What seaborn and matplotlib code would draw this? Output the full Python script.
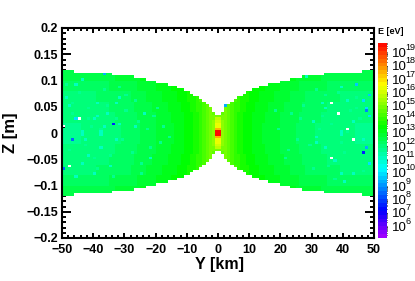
import colorsys
import numpy as np
import pandas as pd
import seaborn as sns
import matplotlib
import matplotlib.pyplot as plt
from matplotlib.colors import ListedColormap, LogNorm
from matplotlib.ticker import LogLocator, MultipleLocator, NullFormatter

matplotlib.use('Agg')

# half height of the filled region [m] for |Y| bins 0-1, 1-2, ... 49-50 km
half_height = [0.035, 0.04, 0.05, 0.055, 0.06, 0.065, 0.07, 0.07, 0.075, 0.08,
               0.08, 0.085, 0.085, 0.09, 0.09, 0.09, 0.095, 0.095, 0.095, 0.095,
               0.10, 0.10, 0.10, 0.105, 0.105, 0.105, 0.105, 0.11, 0.11, 0.11,
               0.11, 0.11, 0.11, 0.11, 0.115, 0.115, 0.115, 0.115, 0.115, 0.115,
               0.115, 0.115, 0.115, 0.115, 0.115, 0.115, 0.12, 0.12, 0.12, 0.12]

# log10(E) near Z = 0 for the same |Y| bins
y_profile = [19.6, 15.1, 14.8, 14.5, 14.2, 14.0, 13.8, 13.6, 13.5, 13.4,
             13.3, 13.2, 13.1, 13.0, 12.95, 12.9, 12.85, 12.8, 12.75, 12.7,
             12.6, 12.55, 12.5, 12.45, 12.4, 12.35, 12.3, 12.25, 12.2, 12.2,
             12.15, 12.1, 12.1, 12.05, 12.05, 12.0, 12.0, 11.95, 11.95, 11.9,
             11.9, 11.85, 11.85, 11.85, 11.8, 11.8, 11.8, 11.8, 11.8, 11.8]
# how much greener it gets towards the edge, |Z| bands of 0.02 m
z_offset = [0.0, 0.05, 0.1, 0.2, 0.35, 0.6]

# the hot core: |Y| < 1 km, per 0.005 m bin of |Z|
core_log_e = [19.6, 17.4, 16.3, 16.2, 16.0, 15.8, 15.0]
# the bins next to it: 1 < |Y| < 2 km
shoulder_log_e = [15.1, 15.1, 15.1, 15.1, 15.1, 15.0, 14.9, 14.7]

# single odd cells
odd_y = [-44.4, -45.5, -33.5, -36.5, -49.3, -46.6, -47.6, -49.3, 2.2,
         36.3, 38.4, 41.3, 44.2, 47.2, 48.2, 46.6, 48.4, 47.1,
         43.4, 36.3, 46.3, 47.2, 48.2]
odd_z = [0.029, 0.028, 0.0165, 0.113, 0.013, -0.0114, -0.0629, -0.0673, 0.053,
         0.0571, 0.0368, 0.0095, 0.0933, 0.0407, 0.0724, 0.0609, 0.0329, 0.05,
         -0.0146, -0.047, -0.0356, -0.026, -0.059]
odd_log_e = [np.nan, 9.8, 7.6, 9.2, np.nan, 8.6, np.nan, 8.6, 9.4,
             np.nan, np.nan, np.nan, 9.6, 8.8, 9.6, 9.8, 9.8, 10.0,
             np.nan, np.nan, 7.6, 9.2, 9.8]

# paler cyan-green cells
pale_y = [-43.4, -45.5, -48.5, -31.6, -33.0, -38.4, -39.6, -35.1, -36.2, -31.9,
          -37.6, -43.4, -38.9, -47.6, -42.6, -43.4, -37.6, -43.4, -39.4, -45.3,
          -33.0, -38.0, -41.6, -34.6, 41.2, 43.4, 39.3, 30.8, 33.2, 28.2, 39.1,
          34.8, 39.3, 31.4, 43.4, 40.2, 39.1, 46.0, 34.3, 37.5, 31.1,
          -23.4, -26.6, -21.6]
pale_z = [0.1016, 0.0902, 0.066, 0.068, 0.0597, 0.0323, 0.0298, 0.0356, 0.0122, 0.0165,
          0.0013, 0.0013, 0.0565, 0.0533, -0.0146, -0.002, -0.002, -0.056, -0.075, -0.082,
          -0.0133, -0.029, -0.044, -0.061, 0.0609, 0.0216, 0.0013, 0.0216, 0.0584, 0.1054, 0.0851,
          0.0471, -0.002, -0.0197, -0.0756, -0.091, -0.0756, -0.0102, -0.029, -0.0514, -0.007,
          0.0375, 0.012, -0.045]
pale_log_e = 11.2

# fainter mottling, picked by eye
mottle_y = [-48.3, -46.2, -44.7, -42.2, -41.3, -40.4, -38.2, -36.7, -35.6, -34.2, -32.4, -30.5,
            -29.3, -27.6, -25.4, -24.2, -22.7, -20.3, -18.6, -47.3, -44.2, -41.2, -37.3, -33.7,
            -29.6, -26.2, -21.4, -17.7, -15.4, -46.6, -39.7, -31.2, -24.6, -19.2,
            48.6, 46.3, 44.7, 42.4, 40.6, 38.3, 36.4, 35.2, 33.6, 31.7, 29.4, 27.2, 25.6, 23.3,
            21.6, 19.4, 47.4, 44.3, 41.4, 37.7, 34.6, 30.3, 26.6, 22.4, 18.3, 45.2, 39.6, 32.3]
mottle_z = [0.092, 0.038, 0.078, -0.022, 0.047, 0.014, -0.066, 0.084, 0.052, -0.041, 0.027, -0.012,
            0.072, -0.036, 0.021, -0.058, 0.007, 0.033, -0.017, -0.034, 0.006, 0.028, 0.009, -0.082,
            0.043, 0.061, -0.029, 0.012, -0.006, 0.056, -0.048, 0.086, -0.077, 0.048,
            0.018, -0.072, 0.068, 0.042, -0.038, 0.077, 0.018, -0.063, 0.031, 0.082, -0.024, 0.052, -0.012, 0.036,
            -0.049, 0.008, -0.014, 0.048, 0.002, -0.088, 0.071, -0.068, 0.028, -0.033, 0.041, 0.027, -0.018, 0.006]
mottle_log_e = 11.7

y_ticks = [-50, -40, -30, -20, -10, 0, 10, 20, 30, 40, 50]
z_ticks = [-0.2, -0.15, -0.1, -0.05, 0, 0.05, 0.1, 0.15, 0.2]
z_labels = ['\u22120.2', '\u22120.15', '\u22120.1', '\u22120.05', '0', '0.05', '0.1', '0.15', '0.2']
e_exponents = [6, 7, 8, 9, 10, 11, 12, 13, 14, 15, 16, 17, 18, 19]
e_min, e_max = 10 ** 5.1, 10 ** 19.7

n_y, n_z = 100, 80
dz = 0.005

# build the 2D histogram, row 0 at the top
grid = np.full((n_z, n_y), np.nan)
for col in range(n_y):
    abs_bin = col - 50 if col >= 50 else 49 - col
    for row in range(n_z):
        j = row - 40 if row >= 40 else 39 - row
        if (j + 1) * dz > half_height[abs_bin] + 1e-9:
            continue
        if abs_bin == 0:
            grid[row, col] = core_log_e[j]
        elif abs_bin == 1:
            grid[row, col] = shoulder_log_e[j]
        else:
            grid[row, col] = y_profile[abs_bin] + z_offset[min(j // 4, 5)]


def cell(y, z):
    return int((0.2 - z) / dz), int(y + 50)


for y, z in zip(mottle_y, mottle_z):
    grid[cell(y, z)] = mottle_log_e
for y, z in zip(pale_y, pale_z):
    grid[cell(y, z)] = pale_log_e
for y, z, v in zip(odd_y, odd_z, odd_log_e):
    grid[cell(y, z)] = v

table = pd.DataFrame(10 ** grid)

# ROOT style rainbow, 50 steps
hues = [280 * (1 - (i + 0.5) / 50) / 360 for i in range(50)]
rainbow = ListedColormap([colorsys.hsv_to_rgb(h, 1, 1) for h in hues])

sns.set_theme(style='ticks')
plt.rcParams['font.family'] = ['Liberation Sans', 'DejaVu Sans']

W, H = 415, 281
fig = plt.figure(figsize=(W / 100, H / 100), dpi=100)
ax = fig.add_axes([62 / W, 1 - 238 / H, 312 / W, 210 / H])
cax = fig.add_axes([378 / W, 1 - 238 / H, 8.5 / W, 195 / H])

sns.heatmap(table, ax=ax, cbar_ax=cax, cmap=rainbow, norm=LogNorm(e_min, e_max),
            xticklabels=False, yticklabels=False, linewidths=0)

# axes in bin units
ax.set_xticks([v + 50 for v in y_ticks])
ax.set_xticklabels(['\u2212' + str(-v) if v < 0 else str(v) for v in y_ticks],
                   fontsize=9, fontweight='bold', color='black')
ax.xaxis.set_minor_locator(MultipleLocator(2))
ax.set_yticks([(0.2 - v) / dz for v in z_ticks])
ax.set_yticklabels(z_labels, fontsize=9, fontweight='bold', color='black')
ax.yaxis.set_minor_locator(MultipleLocator(2))
ax.tick_params(axis='x', which='major', direction='in', top=True, bottom=True, length=3.8, width=1.4, pad=4, color='black')
ax.tick_params(axis='x', which='minor', direction='in', top=True, bottom=True, length=2, width=1.4, color='black')
ax.tick_params(axis='y', which='major', direction='in', left=True, right=True, length=6.6, width=1.4, pad=3, color='black')
ax.tick_params(axis='y', which='minor', direction='in', left=True, right=True, length=3.2, width=1.4, color='black')
ax.set_xlabel('')
ax.set_ylabel('')
for s in ax.spines.values():
    s.set_visible(True)
    s.set_linewidth(1.5)
    s.set_color('black')

# colour bar, base and exponent set by hand so they sit as tight as in the original
cax.yaxis.set_major_locator(LogLocator(base=10, numticks=20))
cax.yaxis.set_minor_locator(LogLocator(base=10, subs=np.arange(2, 10), numticks=20))
cax.yaxis.set_minor_formatter(NullFormatter())
cax.yaxis.set_major_formatter(NullFormatter())
cax.tick_params(axis='y', which='major', direction='in', right=True, left=False, length=6, width=0.8, color='black')
cax.tick_params(axis='y', which='minor', direction='in', right=True, left=False, length=3, width=0.7, color='black')
for s in cax.spines.values():
    s.set_visible(False)

tr = cax.get_yaxis_transform()
for e in e_exponents:
    cax.annotate('10', (14 / 8.5, 10.0 ** e), xycoords=tr, xytext=(0, -1.2), textcoords='offset points',
                 ha='left', va='center', fontsize=9.5, color='black')
    cax.annotate(str(e), (27.5 / 8.5, 10.0 ** e), xycoords=tr, xytext=(0, 3.4), textcoords='offset points',
                 ha='left', va='center', fontsize=6.5, color='black')

fig.text(219 / W, 1 - 265 / H, 'Y [km]', ha='center', va='center', fontsize=11.5, fontweight='bold', color='black')
fig.text(10 / W, 1 - 133 / H, 'Z [m]', ha='center', va='center', rotation=90, fontsize=12, fontweight='bold', color='black')
fig.text(378 / W, 1 - 31 / H, 'E [eV]', ha='left', va='center', fontsize=6.5, fontweight='bold', color='black')

fig.savefig('out.png', dpi=100)
